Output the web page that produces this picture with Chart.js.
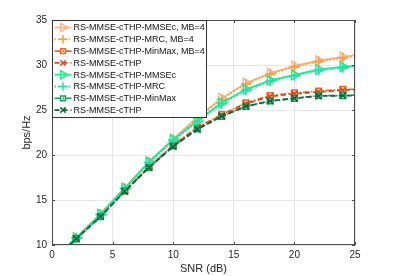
<!DOCTYPE html>
<html><head><meta charset="utf-8">
<script src="https://cdn.jsdelivr.net/npm/chart.js@4.4.0/dist/chart.umd.min.js"></script>
<style>html,body{margin:0;padding:0;background:#fff}#wrap{width:393px;height:276px}</style>
</head><body><div id="wrap"><canvas id="c" width="393" height="276"></canvas></div>
<script>
const snr = [0,2,4,6,8,10,12,14,16,18,20,22,24,25];
const labels = ["RS-MMSE-cTHP-MMSEc, MB=4","RS-MMSE-cTHP-MRC, MB=4","RS-MMSE-cTHP-MinMax, MB=4","RS-MMSE-cTHP","RS-MMSE-cTHP-MMSEc","RS-MMSE-cTHP-MRC","RS-MMSE-cTHP-MinMax","RS-MMSE-cTHP"];
const mmsecMB4 = [8.3,10.8,13.45,16.35,19.3,21.8,24.2,26.3,28.0,29.1,29.9,30.5,30.9,31.1];
const mrcMB4   = [8.3,10.8,13.4,16.3,19.2,21.7,24.1,26.2,27.9,29.0,29.8,30.4,30.8,31.0];
const minmaxMB4= [8.2,10.7,13.2,16.05,18.7,21.1,23.1,24.5,25.8,26.6,26.9,27.1,27.3,27.3];
const cthpMB4  = [8.2,10.7,13.2,16.0,18.65,21.0,23.0,24.4,25.7,26.5,26.8,27.0,27.2,27.25];
const mmsec    = [8.3,10.8,13.4,16.3,19.2,21.7,23.8,25.8,27.3,28.3,28.9,29.5,29.8,29.9];
const mrc      = [8.3,10.8,13.4,16.25,19.15,21.6,23.7,25.7,27.2,28.2,28.8,29.4,29.7,29.85];
const minmax   = [8.2,10.7,13.15,16.0,18.6,21.0,22.9,24.3,25.4,26.0,26.3,26.6,26.6,26.65];
const cthp     = [8.2,10.7,13.15,15.95,18.6,20.95,22.85,24.3,25.4,26.0,26.3,26.55,26.6,26.6];
const xTicks = [0,5,10,15,20,25];
const yTicks = [10,15,20,25,30,35];

const series = [mmsecMB4,mrcMB4,minmaxMB4,cthpMB4,mmsec,mrc,minmax,cthp];
const styles = [
  {c:'#FFB68A', dash:[], ps:'triangle', rot:90, r:5.5, w:1.8},
  {c:'#FF9A3C', dash:[1.5,2], ps:'cross', rot:0, r:5, w:1.8},
  {c:'#F2651A', dash:[6,2,1.5,2], ps:'rect', rot:0, r:4, w:1.6},
  {c:'#D84B1C', dash:[5,3], ps:'crossRot', rot:0, r:4.5, w:1.8},
  {c:'#1EEE8C', dash:[], ps:'triangle', rot:90, r:5.5, w:1.8},
  {c:'#22DDB0', dash:[1.5,2], ps:'cross', rot:0, r:5, w:1.8},
  {c:'#1A9A60', dash:[6,2,1.5,2], ps:'rect', rot:0, r:4, w:1.6},
  {c:'#0C6838', dash:[5,3], ps:'crossRot', rot:0, r:4.5, w:1.8}
];

const datasets = series.map((s,i)=>({
  label: labels[i],
  data: snr.map((x,j)=>({x:x,y:s[j]})),
  borderColor: styles[i].c,
  backgroundColor: 'rgba(0,0,0,0)',
  borderWidth: styles[i].w,
  borderDash: styles[i].dash,
  pointStyle: styles[i].ps,
  pointRotation: styles[i].rot,
  pointRadius: snr.map(x => (x===25||x===0)?0:styles[i].r),
  pointBorderColor: styles[i].c,
  pointBackgroundColor: 'rgba(0,0,0,0)',
  pointBorderWidth: 1.5,
  tension: 0,
  order: 10 - i
}));

const FONT = '"Liberation Sans", Arial, sans-serif';

const frame = {
  id:'frame',
  afterDraw(chart){
    const {ctx, chartArea:a, scales} = chart;
    ctx.save();
    ctx.strokeStyle = '#4d4d4d'; ctx.lineWidth = 1;
    ctx.strokeRect(a.left+0.5, a.top+0.5, a.right-a.left-1, a.bottom-a.top-1);
    ctx.beginPath();
    xTicks.forEach(v=>{const x=Math.round(scales.x.getPixelForValue(v))+0.5;
      ctx.moveTo(x,a.bottom); ctx.lineTo(x,a.bottom-3); ctx.moveTo(x,a.top); ctx.lineTo(x,a.top+3);});
    yTicks.forEach(v=>{const y=Math.round(scales.y.getPixelForValue(v))+0.5;
      ctx.moveTo(a.left,y); ctx.lineTo(a.left+3,y); ctx.moveTo(a.right,y); ctx.lineTo(a.right-3,y);});
    ctx.stroke();
    // legend
    const lx = a.left+0.5, ly = a.top+0.5, lw = 154, lh = 97;
    ctx.fillStyle = '#fff'; ctx.fillRect(lx, ly, lw, lh);
    ctx.strokeStyle = '#333'; ctx.lineWidth = 1; ctx.strokeRect(lx, ly, lw, lh);
    ctx.font = '9px ' + FONT; ctx.textBaseline = 'middle'; ctx.textAlign='left';
    chart.data.datasets.forEach((d,i)=>{
      const y = ly + 7 + i*11.8;
      ctx.save();
      ctx.strokeStyle = d.borderColor; ctx.lineWidth = d.borderWidth; ctx.setLineDash(d.borderDash);
      ctx.beginPath(); ctx.moveTo(lx+2, y); ctx.lineTo(lx+19, y); ctx.stroke();
      ctx.setLineDash([]);
      ctx.lineWidth = 1.5;
      ctx.fillStyle = 'rgba(0,0,0,0)';
      Chart.helpers.drawPoint(ctx, {pointStyle:d.pointStyle, rotation:d.pointRotation, radius:styles[i].r*0.85, borderWidth:1.5}, lx+10.5, y);
      ctx.restore();
      ctx.fillStyle = '#111';
      ctx.fillText(d.label, lx+21, y+0.5);
    });
    ctx.restore();
  }
};

new Chart(document.getElementById('c'), {
  type:'line',
  data:{datasets},
  options:{
    responsive:false, animation:false, devicePixelRatio:1,
    layout:{padding:{left:20,right:38,top:20,bottom:0}},
    plugins:{legend:{display:false}, tooltip:{enabled:false}},
    scales:{
      x:{type:'linear', min:0, max:25,
        afterBuildTicks(s){s.ticks = xTicks.map(v=>({value:v}));},
        afterFit(s){s.height = 31;},
        grid:{color:'#e6e6e6', drawTicks:false, lineWidth:1},
        border:{display:false},
        ticks:{color:'#262626', font:{family:FONT, size:10}, padding:4, maxRotation:0},
        title:{display:true, text:'SNR (dB)', color:'#262626', font:{family:FONT,size:11}, padding:{top:0,bottom:0}}
      },
      y:{type:'linear', min:10, max:35,
        afterBuildTicks(s){s.ticks = yTicks.map(v=>({value:v}));},
        afterFit(s){s.width = 32;},
        grid:{color:'#e6e6e6', drawTicks:false, lineWidth:1},
        border:{display:false},
        ticks:{color:'#262626', font:{family:FONT, size:10}, padding:5},
        title:{display:true, text:'bps/Hz', color:'#262626', font:{family:FONT,size:11}, padding:{top:0,bottom:0}}
      }
    }
  },
  plugins:[frame]
});
</script></body></html>
